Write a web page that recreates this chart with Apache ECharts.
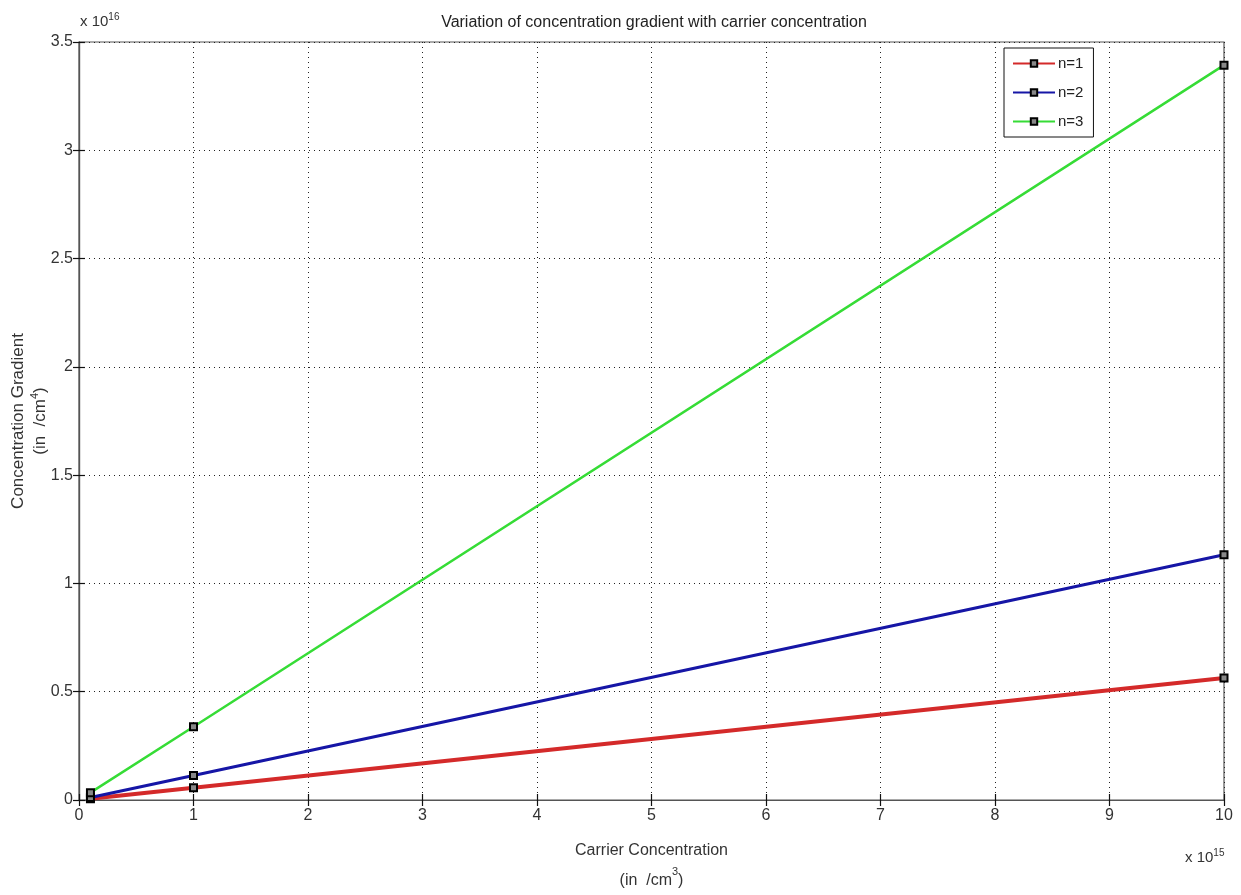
<!DOCTYPE html>
<html>
<head>
<meta charset="utf-8">
<script src="https://cdn.jsdelivr.net/npm/echarts@6/dist/echarts.min.js"></script>
<style>html,body{margin:0;padding:0;background:#fff}#c{width:1241px;height:895px}</style>
</head>
<body>
<div id="c"></div>
<script>
const carrier = [0.1, 1, 10];              // x 10^15 /cm^3
const n1 = [0.0056, 0.0565, 0.563];        // x 10^16 /cm^4
const n2 = [0.0113, 0.113, 1.132];
const n3 = [0.0339, 0.338, 3.393];
const seriesNames = ['n=1', 'n=2', 'n=3'];
const xTicks = [0,1,2,3,4,5,6,7,8,9,10];
const yTicks = [0,0.5,1,1.5,2,2.5,3,3.5];

const FONT = '"Liberation Sans Narrow", "Liberation Sans", Arial, sans-serif';
const colors = ['#d42a2a', '#1616a6', '#36dc36'];
const widths = [4, 3, 2.5];
const vals = [n1, n2, n3];

const chart = echarts.init(document.getElementById('c'));
const pairs = v => carrier.map((x, i) => [x, v[i]]);

const gridLine = {show: true, lineStyle: {color: '#222', type: [1, 4], width: 1}};
const axLine = {show: true, lineStyle: {color: '#555', width: 1.2}};
const tick = {show: true, inside: true, length: 6, lineStyle: {color: '#111', width: 1.2}};

chart.setOption({
  backgroundColor: '#fff',
  animation: false,
  textStyle: {fontFamily: FONT},
  title: {
    text: 'Variation of concentration gradient with carrier concentration',
    left: 649, top: 10, textAlign: 'center',
    textStyle: {fontFamily: FONT, fontSize: 16, fontWeight: 'normal', color: '#222'}
  },
  legend: {
    orient: 'vertical', left: 1004, top: 48,
    data: seriesNames,
    backgroundColor: '#fff', borderColor: '#111', borderWidth: 1,
    padding: [8, 10, 8, 8], itemWidth: 42, itemHeight: 8, itemGap: 14,
    textStyle: {fontFamily: FONT, fontSize: 15, color: '#222', padding: [0,0,0,-2]}
  },
  grid: {left: 79, right: 17, top: 42, bottom: 95, containLabel: false, outerBoundsMode: 'none',
    show: true, borderColor: '#555', borderWidth: 1.2},
  xAxis: [{
    type: 'value', min: 0, max: 10, interval: 1, position: 'bottom',
    axisLine: axLine, axisTick: tick, splitLine: gridLine,
    axisLabel: {fontFamily: FONT, fontSize: 16, color: '#333', margin: 8,
      formatter: v => xTicks.includes(v) ? String(v) : ''},
    name: 'Carrier Concentration\n(in  /cm{sup|3})',
    nameLocation: 'middle', nameGap: 36, nameMoveOverlap: false,
    nameTextStyle: {fontFamily: FONT, fontSize: 16, color: '#333', lineHeight: 30,
      rich: {sup: {fontFamily: FONT, fontSize: 11, color: '#333', verticalAlign: 'top', padding: [0,0,10,0]}}}
  }, {
    type: 'value', min: 0, max: 10, interval: 1, position: 'top',
    axisLine: axLine, axisTick: tick, splitLine: {show: false}, axisLabel: {show: false}
  }],
  yAxis: [{
    type: 'value', min: 0, max: 3.5, interval: 0.5, position: 'left',
    axisLine: axLine, axisTick: tick, splitLine: gridLine,
    axisLabel: {fontFamily: FONT, fontSize: 16, color: '#333', margin: 6,
      formatter: v => yTicks.includes(v) ? String(v) : ''},
    name: 'Concentration Gradient\n(in  /cm{sup|4})',
    nameLocation: 'middle', nameGap: 28, nameRotate: 90, nameMoveOverlap: false,
    nameTextStyle: {fontFamily: FONT, fontSize: 17, color: '#333', lineHeight: 22,
      rich: {sup: {fontFamily: FONT, fontSize: 11, color: '#333', padding: [0,0,10,0]}}}
  }, {
    type: 'value', min: 0, max: 3.5, interval: 0.5, position: 'right',
    axisLine: axLine, axisTick: tick, splitLine: {show: false}, axisLabel: {show: false}
  }],
  graphic: [
    {type: 'text', left: 80, top: 12, style: {
      text: 'x 10{s|16}', fontFamily: FONT, fontSize: 15, fill: '#333',
      rich: {s: {fontFamily: FONT, fontSize: 10, fill: '#333', padding: [0,0,10,0]}}}},
    {type: 'text', left: 1185, top: 848, style: {
      text: 'x 10{s|15}', fontFamily: FONT, fontSize: 15, fill: '#333',
      rich: {s: {fontFamily: FONT, fontSize: 10, fill: '#333', padding: [0,0,10,0]}}}}
  ],
  series: seriesNames.map((nm, i) => ({
    name: nm, type: 'line', xAxisIndex: 0, yAxisIndex: 0,
    data: pairs(vals[i]),
    symbol: 'rect', symbolSize: 7, showSymbol: true,
    lineStyle: {color: colors[i], width: widths[i]},
    itemStyle: {color: '#888', borderColor: '#000', borderWidth: 2},
    z: 3 + i
  }))
});
</script>
</body>
</html>
